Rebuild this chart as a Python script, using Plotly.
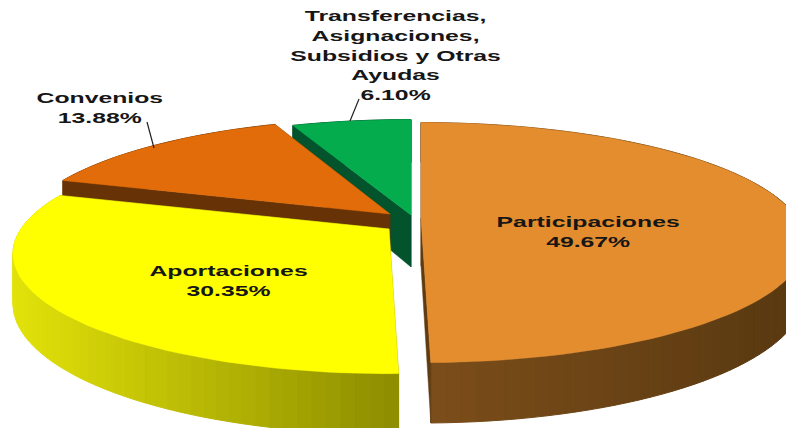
import math
import plotly.graph_objects as go

# ---- data ----
categories = ["Participaciones", "Aportaciones", "Convenios", "Transferencias"]
shares = [49.67, 30.35, 13.88, 6.10]

# ---- style ----
top_colors = ["#E48D2E", "#FFFF00", "#E26C09", "#04AC4E"]
face_colors = ["#5F3B12", "#8F8F00", "#673306", "#03532C"]
wall_left = [(124, 78, 26), (226, 226, 10), (120, 60, 8), (3, 83, 44)]
wall_right = [(88, 56, 16), (140, 140, 0), (103, 51, 6), (3, 83, 44)]
apex_x = [421, 389, 390, 411]
apex_y = [218, 229, 214, 215]
radius_x = [376, 368, 366, 376]
depth = [48, 48, 48, 52]

RY, K = 115, 0.205


def project(i, t, lift=0.0):
    X, Y = math.sin(t), -math.cos(t)
    d = 1 - K * Y
    return apex_x[i] + radius_x[i] * X / d, apex_y[i] + RY * Y / d + lift / d


def mix(a, b, f):
    return "rgb(%d,%d,%d)" % tuple(round(a[i] + (b[i] - a[i]) * f) for i in range(3))


fig = go.Figure()


def poly(xs, ys, color, lw=0.0):
    fig.add_trace(go.Scatter(
        x=xs, y=ys, mode="lines", fill="toself", fillcolor=color,
        line=dict(color=color, width=lw), hoverinfo="skip", showlegend=False,
    ))


starts, acc = [], 0.0
for v in shares:
    starts.append(acc)
    acc += v
total = acc

for i in [3, 2, 1, 0]:
    a0 = math.radians(starts[i] / total * 360)
    a1 = math.radians((starts[i] + shares[i]) / total * 360)
    ax, ay, H = apex_x[i], apex_y[i], depth[i]
    n = max(6, int(shares[i] * 2))
    ts = [a0 + (a1 - a0) * k / n for k in range(n + 1)]

    # outer wall, shaded by horizontal position
    pts = [project(i, t) for t in ts]
    xmin, xmax = min(p[0] for p in pts), max(p[0] for p in pts)
    for k in range(n):
        p, q = project(i, ts[k]), project(i, ts[k + 1])
        pb, qb = project(i, ts[k], H), project(i, ts[k + 1], H)
        f = ((p[0] + q[0]) / 2 - xmin) / max(1, xmax - xmin)
        poly([p[0], q[0], qb[0], pb[0], p[0]], [p[1], q[1], qb[1], pb[1], p[1]],
             mix(wall_left[i], wall_right[i], f), 1)

    # radial cut faces
    for t in (a0, a1):
        p, pb = project(i, t), project(i, t, H)
        poly([ax, p[0], pb[0], ax, ax], [ay, p[1], pb[1], ay + H, ay], face_colors[i], 0.5)

    # top surface
    poly([ax] + [p[0] for p in pts] + [ax], [ay] + [p[1] for p in pts] + [ay], top_colors[i], 0.5)

# leader lines
for x0, y0, x1, y1 in [(147, 122, 154, 148), (359, 99, 350, 121)]:
    fig.add_shape(type="line", x0=x0, y0=y0, x1=x1, y1=y1, line=dict(color="#222222", width=1.2))

labels = [
    ("Participaciones<br>49.67%", 588, 231),
    ("Aportaciones<br>30.35%", 228, 280),
    ("Convenios<br>13.88%", 100, 107),
    ("Transferencias,<br>Asignaciones,<br>Subsidios y Otras<br>Ayudas<br>6.10%", 395, 55),
]
for text, x, y in labels:
    fig.add_annotation(x=x, y=y, text=text, showarrow=False, align="center",
                       font=dict(family="Liberation Sans", size=15.2, color="#161616", weight="bold"))

fig.update_layout(
    width=786, height=428, margin=dict(l=0, r=0, t=0, b=0),
    paper_bgcolor="white", plot_bgcolor="white",
    xaxis=dict(range=[0, 786], visible=False, fixedrange=True),
    yaxis=dict(range=[428, 0], visible=False, fixedrange=True),
)

css = """
document.body.style.margin = '0';
document.body.style.overflow = 'hidden';
var st = document.createElement('style');
st.textContent = '.annotation-text{transform-box:fill-box;transform-origin:center;transform:scaleX(1.63);}';
document.head.appendChild(st);
"""
fig.write_html("out.html", config={"displayModeBar": False}, post_script=css)
